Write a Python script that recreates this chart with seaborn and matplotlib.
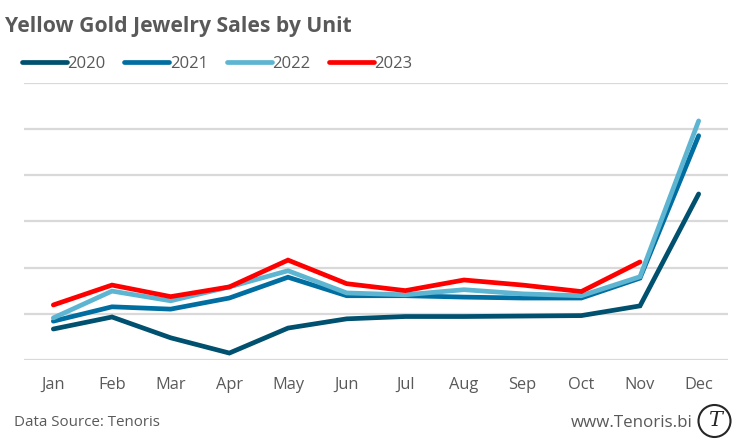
import matplotlib
matplotlib.use("Agg")
import matplotlib.pyplot as plt
from matplotlib.patches import Ellipse
import numpy as np
import pandas as pd
import seaborn as sns

months = ["Jan", "Feb", "Mar", "Apr", "May", "Jun", "Jul", "Aug", "Sep", "Oct", "Nov", "Dec"]
s2020 = [0.67, 0.93, 0.48, 0.15, 0.69, 0.89, 0.94, 0.94, 0.95, 0.96, 1.17, 3.59]
s2021 = [0.84, 1.15, 1.10, 1.34, 1.79, 1.39, 1.39, 1.36, 1.34, 1.34, 1.77, 4.85]
s2022 = [0.91, 1.49, 1.28, 1.58, 1.93, 1.45, 1.41, 1.52, 1.43, 1.39, 1.80, 5.17]
s2023 = [1.19, 1.62, 1.37, 1.58, 2.16, 1.65, 1.50, 1.73, 1.62, 1.48, 2.12, np.nan]
years = ["2020", "2021", "2022", "2023"]
colors = ["#00506F", "#006EA1", "#5DB5D1", "#FF0000"]

df = pd.DataFrame({"Month": months, "2020": s2020, "2021": s2021, "2022": s2022, "2023": s2023})
long = df.melt(id_vars="Month", var_name="Year", value_name="Units")

sns.set_theme(style="white")
plt.rcParams["font.family"] = ["Open Sans", "DejaVu Sans"]
W, H = 742, 447
fig = plt.figure(figsize=(W / 100, H / 100), dpi=100, facecolor="white")
ax = fig.add_axes([24 / W, 1 - 360 / H, 704 / W, (360 - 82.5) / H])

sns.lineplot(data=long, x="Month", y="Units", hue="Year", hue_order=years, palette=colors,
             sort=False, linewidth=3.4, ax=ax, legend=True, estimator=None,
             solid_capstyle="round", solid_joinstyle="miter")

ax.set_xlim(-0.5, 11.5)
ax.set_ylim(0, 6)
ax.set_yticks(range(7))
ax.set_yticklabels([])
ax.grid(axis="y", color="#D9D9D9", linewidth=1.6)
ax.grid(axis="x", visible=False)
ax.set_axisbelow(True)
for s in ax.spines.values():
    s.set_visible(False)
ax.tick_params(axis="both", length=0)
ax.tick_params(axis="x", labelsize=11.8, labelcolor="#595959", pad=12)
ax.set_xlabel("")
ax.set_ylabel("")

handles, labels = ax.get_legend_handles_labels()
for h in handles:
    h.set_solid_capstyle("round")
leg = ax.legend(handles, labels, loc="upper left", bbox_to_anchor=(22 / W, 1 - 56 / H),
                bbox_transform=fig.transFigure, ncol=4, frameon=False, fontsize=12,
                handlelength=2.7, handletextpad=0.02, columnspacing=1.13,
                borderpad=0, borderaxespad=0)
for t in leg.get_texts():
    t.set_color("#595959")

fig.text(5 / W, 1 - 26.5 / H, "Yellow Gold Jewelry Sales by Unit", fontsize=15.2, fontweight="bold",
         color="#595959", va="center", ha="left")
fig.text(14 / W, 1 - 422 / H, "Data Source: Tenoris", fontsize=10.9, color="#595959", va="center", ha="left")
fig.text(693 / W, 1 - 423 / H, "www.Tenoris.bi", fontsize=12.2, color="#595959", va="center", ha="right")

fig.add_artist(Ellipse((714.5 / W, 1 - 421 / H), 32 / W, 32 / H, transform=fig.transFigure,
                       facecolor="white", edgecolor="#262626", linewidth=1.5))
fig.text(714.5 / W, 1 - 420 / H, "T", fontsize=15, style="italic", family="DejaVu Serif",
         color="#262626", va="center", ha="center")

fig.savefig("out.png", dpi=100)
